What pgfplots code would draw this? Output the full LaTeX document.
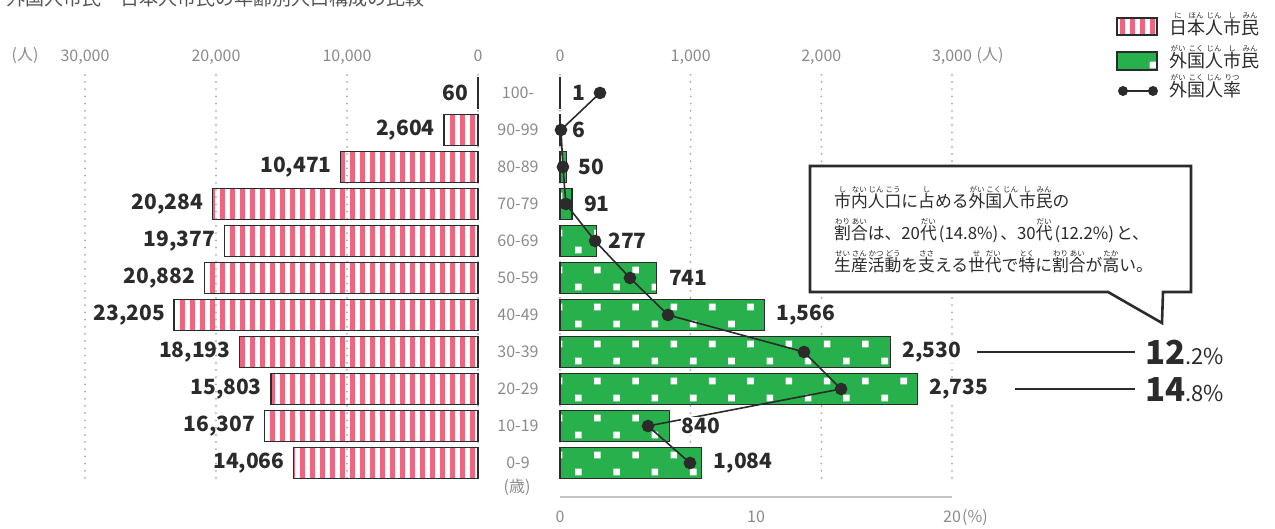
\documentclass[border=0pt]{standalone}
\usepackage{fontspec}
\setmainfont{Noto Sans CJK JP}
\usepackage{pgfplots}
\usepackage{pgfplotstable}
\pgfplotsset{compat=1.18}
\usetikzlibrary{patterns}

\definecolor{jpink}{HTML}{F0657E}
\definecolor{fgreen}{HTML}{27B04B}
\definecolor{dk}{HTML}{2B2B2B}
\definecolor{tgray}{HTML}{8A8A8A}
\definecolor{ggray}{HTML}{A8A8A8}
\definecolor{lgray}{HTML}{C4C4C4}
\definecolor{titlegray}{HTML}{555555}

\pgfdeclarepatternformonly{pstripe}{\pgfqpoint{0pt}{-1pt}}{\pgfqpoint{10pt}{601pt}}{\pgfqpoint{10pt}{600pt}}{%
  \pgfpathrectangle{\pgfqpoint{0pt}{-1pt}}{\pgfqpoint{5pt}{602pt}}\pgfusepath{fill}}
\pgfdeclarepatternformonly{gsq}{\pgfqpoint{0pt}{4pt}}{\pgfqpoint{38.3pt}{41pt}}{\pgfqpoint{38.3pt}{37pt}}{%
  \pgfpathrectangle{\pgfqpoint{19.5pt}{33.7pt}}{\pgfqpoint{6.6pt}{6.6pt}}%
  \pgfpathrectangle{\pgfqpoint{0.5pt}{16.7pt}}{\pgfqpoint{6.6pt}{6.6pt}}%
  \pgfusepath{fill}}

\newcommand\rubyfont{\fontsize{7.5pt}{7.5pt}\selectfont}
\newcommand{\rb}[2]{\leavevmode\setbox0=\hbox{#1}\setbox2=\hbox{\rubyfont #2}%
  \rlap{\raisebox{0.93em}{\hbox to \wd0{\hss\box2\hss}}}\box0}

\tikzset{vallab/.style={font=\bfseries\fontsize{21pt}{21pt}\selectfont, text=dk}}

\pgfplotstableread{
k v lab
0 14066 14,066
1 16307 16,307
2 15803 15,803
3 18193 18,193
4 23205 23,205
5 20882 20,882
6 19377 19,377
7 20284 20,284
8 10471 10,471
9 2604 2,604
10 60 60
}\jp

\pgfplotstableread{
k v lab r
0 1084 1,084 6.63
1 840 840 4.49
2 2735 2,735 14.34
3 2530 2,530 12.45
4 1566 1,566 5.51
5 741 741 3.57
6 277 277 1.79
7 91 91 0.3
8 50 50 0.15
9 6 6 0.05
10 1 1 2.04
}\fr

\pgfplotsset{
  rowaxis/.style={scale only axis, anchor=south west, axis line style={draw=none},
    major tick length=0pt, tick style={draw=none}, clip=false,
    scaled x ticks=false, scaled y ticks=false,
    ymin=-0.405, ymax=10.62, height=408pt, ytick=\empty},
  toplabels/.style={xticklabel pos=upper,
    xticklabel style={anchor=base, yshift=8.5pt, font=\fontsize{16pt}{16pt}\selectfont, text=tgray}},
  dotgrid/.style={xmajorgrids, grid style={draw=ggray, line width=2pt, line cap=round, dash pattern=on 0pt off 7.2pt}}
}

\begin{document}
\begin{tikzpicture}
\useasboundingbox (0,0) rectangle (1275pt,529pt);
\clip (0,0) rectangle (1275pt,529pt);

\node[anchor=base west, font=\fontsize{19pt}{19pt}\selectfont, text=titlegray, inner sep=0pt] at (6pt,523pt) {外国人市民・日本人市民の年齢別人口構成の比較};

% Japanese residents
\begin{axis}[rowaxis, toplabels, dotgrid, at={(85pt,51pt)}, width=393pt,
  x dir=reverse, xmin=0, xmax=30000,
  xtick={0,10000,20000,30000}, xticklabels={0,{10,000},{20,000},{30,000}},
  xbar, bar width=31pt, bar shift=0pt]
\addplot[draw=dk, line width=1.3pt, pattern=pstripe, pattern color=jpink, bar shift=0pt] table[x=v,y=k]{\jp};
\addplot[draw=none, bar shift=0pt, nodes near coords, point meta=explicit symbolic,
  nodes near coords align={east},
  every node near coord/.append style={vallab, xshift=-8pt, inner sep=1pt}] table[x=v,y=k,meta=lab]{\jp};
\end{axis}

% Foreign residents
\begin{axis}[rowaxis, toplabels, dotgrid, at={(560pt,51pt)}, width=392pt,
  xmin=0, xmax=3000,
  xtick={0,1000,2000,3000}, xticklabels={0,{1,000},{2,000},{3,000}},
  ytick={0,...,10}, yticklabels={0-9,10-19,20-29,30-39,40-49,50-59,60-69,70-79,80-89,90-99,100-},
  yticklabel style={anchor=center, xshift=-42pt, font=\fontsize{16pt}{16pt}\selectfont, text=tgray},
  xbar, bar width=31pt, bar shift=0pt]
\addplot[draw=dk, line width=1.3pt, preaction={fill=fgreen}, pattern=gsq, pattern color=white, bar shift=0pt] table[x=v,y=k]{\fr};
\end{axis}

% Rate axis
\begin{axis}[scale only axis, anchor=south west, at={(560pt,32pt)}, width=392pt, height=427pt,
  xmin=0, xmax=20, ymin=-0.919, ymax=10.62, clip=false,
  axis x line*=bottom, axis y line=none,
  x axis line style={-, draw=lgray, line width=2pt},
  major tick length=0pt, tick style={draw=none},
  xtick={0,10,20}, xticklabels={0,10,20},
  xticklabel style={anchor=base, yshift=-26pt, font=\fontsize{16pt}{16pt}\selectfont, text=tgray}]
\addplot[color=dk, line width=1.6pt, mark=*, mark size=5.5pt, mark options={fill=dk, draw=dk}] table[x=r,y=k]{\fr};
\end{axis}

% Foreign labels on top
\begin{axis}[rowaxis, at={(560pt,51pt)}, width=392pt, xmin=0, xmax=3000, xtick=\empty]
\addplot[draw=none, nodes near coords, point meta=explicit symbolic,
  nodes near coords align={west},
  every node near coord/.append style={vallab, xshift=11pt, fill=white, inner sep=1pt}] table[x=v,y=k,meta=lab]{\fr};
\end{axis}

% unit labels
\node[font=\fontsize{16pt}{16pt}\selectfont, text=tgray] at (25pt,473pt) {(人)};
\node[font=\fontsize{16pt}{16pt}\selectfont, text=tgray] at (990pt,473pt) {(人)};
\node[font=\fontsize{16pt}{16pt}\selectfont, text=tgray] at (517pt,42pt) {(歳)};
\node[font=\fontsize{16pt}{16pt}\selectfont, text=tgray, anchor=base west, inner sep=0pt] at (962pt,6pt) {(\%)};

% 12.2% / 14.8% annotations
\draw[dk, line width=2pt] (977pt,177pt) -- (1135pt,177pt);
\draw[dk, line width=2pt] (1015pt,140pt) -- (1135pt,140pt);
\node[anchor=base west, inner sep=0pt, text=dk] at (1145pt,164.5pt) {{\bfseries\fontsize{33pt}{33pt}\selectfont 12}{\fontsize{22pt}{22pt}\selectfont .2\%}};
\node[anchor=base west, inner sep=0pt, text=dk] at (1145pt,127.5pt) {{\bfseries\fontsize{33pt}{33pt}\selectfont 14}{\fontsize{22pt}{22pt}\selectfont .8\%}};

% callout
\draw[line width=2.6pt, draw=dk, fill=white, line join=miter] (810pt,363pt) -- (1191pt,363pt) -- (1191pt,237pt) -- (1163pt,237pt) -- (1162pt,206pt) -- (1108pt,237pt) -- (810pt,237pt) -- cycle;
\node[anchor=base west, align=left, inner sep=0pt, text=dk, font=\fontsize{16.8pt}{32pt}\selectfont] at (834pt,257pt)
{\rb{市}{し}\rb{内}{ない}\rb{人}{じん}\rb{口}{こう}に\rb{占}{し}める\rb{外}{がい}\rb{国}{こく}\rb{人}{じん}\rb{市}{し}\rb{民}{みん}の\\
\rb{割}{わり}\rb{合}{あい}は、20\rb{代}{だい}\kern2pt(14.8\%)\kern2pt、30\rb{代}{だい}\kern2pt(12.2\%)\kern2pt と、\\
\rb{生}{せい}\rb{産}{さん}\rb{活}{かつ}\rb{動}{どう}を\rb{支}{ささ}える\rb{世}{せ}\rb{代}{だい}で\rb{特}{とく}に\rb{割}{わり}\rb{合}{あい}が\rb{高}{たか}い。};

% legend
\draw[line width=2pt, draw=dk, pattern=pstripe, pattern color=jpink] (1117pt,494pt) rectangle (1157pt,511pt);
\draw[line width=2pt, draw=dk, preaction={fill=fgreen}, pattern=gsq, pattern color=white] (1117pt,459pt) rectangle (1157pt,477pt);
\draw[dk, line width=1.6pt] (1123pt,438pt) -- (1153pt,438pt);
\fill[dk] (1123pt,438pt) circle (5pt);
\fill[dk] (1153pt,438pt) circle (5pt);
\begin{scope}[every node/.style={anchor=base west, inner sep=0pt, text=dk, font=\fontsize{18pt}{18pt}\selectfont}]
\node at (1169pt,494pt) {\rb{日}{に}\rb{本}{ほん}\rb{人}{じん}\rb{市}{し}\rb{民}{みん}};
\node at (1169pt,461pt) {\rb{外}{がい}\rb{国}{こく}\rb{人}{じん}\rb{市}{し}\rb{民}{みん}};
\node at (1169pt,432pt) {\rb{外}{がい}\rb{国}{こく}\rb{人}{じん}\rb{率}{りつ}};
\end{scope}
\end{tikzpicture}
\end{document}
